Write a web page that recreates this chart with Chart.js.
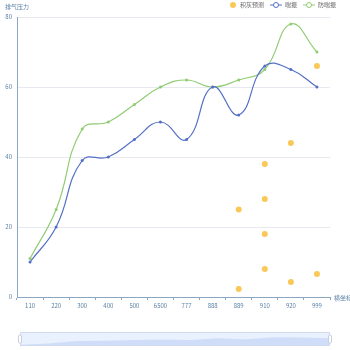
<!DOCTYPE html>
<html>
<head>
<meta charset="utf-8">
<script src="https://cdn.jsdelivr.net/npm/chart.js@4"></script>
<style>
  body { margin: 0; background: #fff; }
  #wrap { width: 350px; height: 350px; }
</style>
</head>
<body>
<div id="wrap"><canvas id="chart"></canvas></div>
<script>
// Categories and series
const categories = ["110", "220", "300", "400", "500", "6500", "777", "888", "889", "910", "920", "999"];
const surgeValues = [10, 20, 39, 40, 45, 50, 45, 60, 52, 66, 65, 60];
const antiSurgeValues = [11, 25, 48, 50, 55, 60, 62, 60, 62, 65, 78, 70];
const ashX = ["889", "889", "910", "910", "910", "910", "920", "920", "999", "999"];
const ashY = [25, 2.3, 38, 28, 18, 8, 44, 4.3, 66, 6.6];
const yTicks = [0, 20, 40, 60, 80];

const legendNames = ["积灰预测", "喘振", "防喘振"];
const colors = ["#fac858", "#5470c6", "#91cc75"];
const textColor = "#5b80a6";
const axisColor = "#8ba6c1";
const fontFamily = "'Noto Sans CJK SC', 'Noto Sans', sans-serif";

// Extra drawing: legend, axis names, zoom slider
const decorPlugin = {
  id: "decor",
  afterDraw(chart) {
    const c = chart.ctx;
    c.save();
    c.font = "6px " + fontFamily;
    c.textBaseline = "middle";

    // axis names
    c.fillStyle = textColor;
    c.textAlign = "left";
    c.fillText("排气压力", 5, 7);
    c.fillText("横坐标", chart.chartArea.right + 4, chart.chartArea.bottom + 1);

    // legend
    let x = 233, y = 5;
    c.fillStyle = colors[0];
    c.beginPath(); c.arc(x, y, 3, 0, Math.PI * 2); c.fill();
    c.fillStyle = "#666";
    c.fillText(legendNames[0], x + 7, y);
    [[270, 1], [303, 2]].forEach(([lx, i]) => {
      c.strokeStyle = colors[i];
      c.lineWidth = 1;
      c.beginPath(); c.moveTo(lx, y); c.lineTo(lx + 12, y); c.stroke();
      c.fillStyle = "#fff";
      c.beginPath(); c.arc(lx + 6, y, 2.5, 0, Math.PI * 2); c.fill(); c.stroke();
      c.fillStyle = "#666";
      c.fillText(legendNames[i], lx + 15, y);
    });

    // data zoom slider
    const sx = 20, sw = 310, sy = 332, sh = 14;
    c.fillStyle = "rgba(135,175,250,0.18)";
    c.fillRect(sx, sy, sw, sh);
    c.beginPath();
    c.moveTo(sx, sy + sh);
    surgeValues.forEach((v, i) => {
      const px = sx + (sw * i) / (surgeValues.length - 1);
      const py = sy + sh - (v / 80) * sh * 0.75;
      c.lineTo(px, py);
    });
    c.lineTo(sx + sw, sy + sh);
    c.closePath();
    c.fillStyle = "rgba(160,185,240,0.35)";
    c.fill();
    c.strokeStyle = "#d2dbee";
    c.lineWidth = 1;
    c.strokeRect(sx + 0.5, sy + 0.5, sw - 1, sh - 1);
    [sx, sx + sw].forEach(hx => {
      c.fillStyle = "#fff";
      c.strokeStyle = "#c5cfe0";
      c.beginPath();
      c.roundRect(hx - 1.5, sy + 3, 3, sh - 6, 1);
      c.fill(); c.stroke();
    });
    c.restore();
  }
};

new Chart(document.getElementById("chart"), {
  type: "line",
  data: {
    labels: categories,
    datasets: [
      {
        label: legendNames[0],
        data: ashX.map((x, i) => ({ x: x, y: ashY[i] })),
        showLine: false,
        pointRadius: 3,
        pointBackgroundColor: colors[0],
        pointBorderColor: colors[0],
        pointBorderWidth: 0
      },
      {
        label: legendNames[1],
        data: surgeValues,
        borderColor: colors[1],
        backgroundColor: colors[1],
        borderWidth: 1.2,
        tension: 0.45,
        pointRadius: 1.5,
        pointBorderWidth: 0,
        pointBackgroundColor: colors[1]
      },
      {
        label: legendNames[2],
        data: antiSurgeValues,
        borderColor: colors[2],
        backgroundColor: colors[2],
        borderWidth: 1.2,
        tension: 0.45,
        pointRadius: 1.5,
        pointBorderWidth: 0,
        pointBackgroundColor: colors[2]
      }
    ]
  },
  options: {
    responsive: true,
    maintainAspectRatio: false,
    animation: false,
    layout: { padding: { top: 17, right: 20, bottom: 38, left: 0 } },
    plugins: {
      legend: { display: false },
      tooltip: { enabled: false }
    },
    scales: {
      x: {
        offset: true,
        afterFit: s => { s.height = 15; },
        border: { color: axisColor },
        grid: { offset: true, drawOnChartArea: false, drawTicks: true, tickLength: 3, color: axisColor },
        ticks: { color: textColor, font: { size: 6, family: fontFamily }, padding: 2, maxRotation: 0, autoSkip: false }
      },
      y: {
        min: 0,
        max: 80,
        afterFit: s => { s.width = 17; },
        afterBuildTicks: s => { s.ticks = yTicks.map(v => ({ value: v })); },
        border: { color: axisColor, display: true },
        grid: { color: "#e6e9ef", drawTicks: false },
        ticks: { color: textColor, font: { size: 6, family: fontFamily }, padding: 5 }
      }
    }
  },
  plugins: [decorPlugin]
});
</script>
</body>
</html>
